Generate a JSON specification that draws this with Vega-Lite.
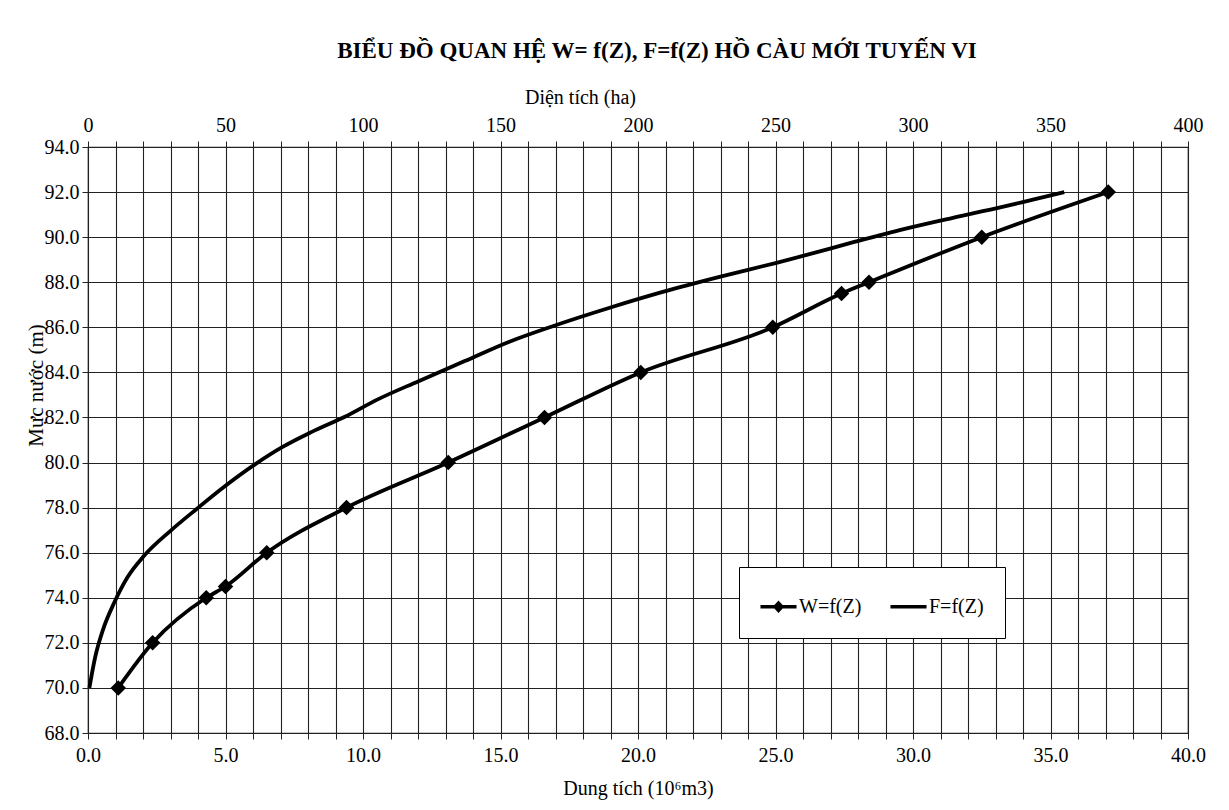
{
  "$schema": "https://vega.github.io/schema/vega-lite/v6.json",
  "width": 1100,
  "height": 586,
  "autosize": {"type": "none"},
  "padding": {"left": 88, "top": 147, "right": 41, "bottom": 77},
  "background": "white",
  "config": {
    "font": "Liberation Serif",
    "view": {"stroke": "#222", "strokeWidth": 1.2},
    "axis": {
      "labelFont": "Liberation Serif",
      "titleFont": "Liberation Serif",
      "labelColor": "black",
      "titleColor": "black",
      "labelFontSize": 20,
      "titleFontSize": 20,
      "titleFontWeight": "normal",
      "gridColor": "#222",
      "gridWidth": 1.1,
      "gridOpacity": 1,
      "tickColor": "#222",
      "domainColor": "#222",
      "labelOverlap": false,
      "labelFlush": false
    }
  },
  "title": {
    "text": "BIỂU ĐỒ QUAN HỆ  W= f(Z), F=f(Z) HỒ CÀU MỚI TUYẾN VI",
    "font": "Liberation Serif",
    "fontSize": 23,
    "fontWeight": "bold",
    "color": "black",
    "offset": 24,
    "dx": 19
  },
  "datasets": {
    "W": [
      {"series": "W=f(Z)", "W": 1.1, "Z": 70},
      {"series": "W=f(Z)", "W": 2.35, "Z": 72},
      {"series": "W=f(Z)", "W": 4.3, "Z": 74},
      {"series": "W=f(Z)", "W": 5.0, "Z": 74.5},
      {"series": "W=f(Z)", "W": 6.5, "Z": 76},
      {"series": "W=f(Z)", "W": 9.4, "Z": 78},
      {"series": "W=f(Z)", "W": 13.1, "Z": 80},
      {"series": "W=f(Z)", "W": 16.6, "Z": 82},
      {"series": "W=f(Z)", "W": 20.1, "Z": 84},
      {"series": "W=f(Z)", "W": 24.9, "Z": 86},
      {"series": "W=f(Z)", "W": 27.4, "Z": 87.5},
      {"series": "W=f(Z)", "W": 28.4, "Z": 88},
      {"series": "W=f(Z)", "W": 32.5, "Z": 90},
      {"series": "W=f(Z)", "W": 37.1, "Z": 92}
    ],
    "F": [
      {"series": "F=f(Z)", "F": 0.5, "Z": 70},
      {"series": "F=f(Z)", "F": 2.6, "Z": 71.36},
      {"series": "F=f(Z)", "F": 5.5, "Z": 72.6},
      {"series": "F=f(Z)", "F": 9.6, "Z": 73.8},
      {"series": "F=f(Z)", "F": 14.3, "Z": 74.9},
      {"series": "F=f(Z)", "F": 20.3, "Z": 75.85},
      {"series": "F=f(Z)", "F": 30, "Z": 76.97},
      {"series": "F=f(Z)", "F": 39.4, "Z": 77.93},
      {"series": "F=f(Z)", "F": 50, "Z": 78.97},
      {"series": "F=f(Z)", "F": 61, "Z": 79.94},
      {"series": "F=f(Z)", "F": 70.6, "Z": 80.68},
      {"series": "F=f(Z)", "F": 81.4, "Z": 81.36},
      {"series": "F=f(Z)", "F": 93.4, "Z": 82.03},
      {"series": "F=f(Z)", "F": 105, "Z": 82.78},
      {"series": "F=f(Z)", "F": 120, "Z": 83.6},
      {"series": "F=f(Z)", "F": 137, "Z": 84.5},
      {"series": "F=f(Z)", "F": 153, "Z": 85.35},
      {"series": "F=f(Z)", "F": 169, "Z": 86.05},
      {"series": "F=f(Z)", "F": 190, "Z": 86.88},
      {"series": "F=f(Z)", "F": 209, "Z": 87.57},
      {"series": "F=f(Z)", "F": 230, "Z": 88.25},
      {"series": "F=f(Z)", "F": 250, "Z": 88.85},
      {"series": "F=f(Z)", "F": 261, "Z": 89.2},
      {"series": "F=f(Z)", "F": 279, "Z": 89.8},
      {"series": "F=f(Z)", "F": 297, "Z": 90.37},
      {"series": "F=f(Z)", "F": 314.5, "Z": 90.86},
      {"series": "F=f(Z)", "F": 332.5, "Z": 91.34},
      {"series": "F=f(Z)", "F": 344, "Z": 91.68},
      {"series": "F=f(Z)", "F": 355, "Z": 92.0}
    ]
  },
  "layer": [
    {
      "data": {"name": "W"},
      "encoding": {
        "x": {
          "field": "W",
          "type": "quantitative",
          "scale": {"domain": [0, 40], "nice": false, "zero": false},
          "axis": {
            "orient": "bottom",
            "values": [0,1,2,3,4,5,6,7,8,9,10,11,12,13,14,15,16,17,18,19,20,21,22,23,24,25,26,27,28,29,30,31,32,33,34,35,36,37,38,39,40],
            "labelExpr": "datum.value % 5 === 0 ? format(datum.value, '.1f') : ''",
            "labelOverlap": false,
            "title": "Dung tích  (10⁶m3)",
            "grid": true,
            "tickSize": 6,
            "labelPadding": 6,
            "titlePadding": 13
          }
        },
        "y": {
          "field": "Z",
          "type": "quantitative",
          "scale": {"domain": [68, 94], "nice": false, "zero": false},
          "axis": {
            "values": [68,70,72,74,76,78,80,82,84,86,88,90,92,94],
            "format": ".1f",
            "title": "Mực nước (m)",
            "titleFontSize": 21,
            "titleX": -42,
            "titleY": 238,
            "grid": true,
            "tickSize": 6,
            "labelPadding": 3
          }
        }
      },
      "layer": [
        {
          "mark": {"type": "line", "interpolate": "monotone", "strokeWidth": 3.8},
          "encoding": {
            "color": {
              "field": "series",
              "type": "nominal",
              "scale": {"domain": ["W=f(Z)", "F=f(Z)"], "range": ["black", "black"]},
              "legend": {
                "title": null,
                "orient": "none",
                "legendX": 651,
                "legendY": 420,
                "direction": "horizontal",
                "fillColor": "white",
                "strokeColor": "black",
                "padding": 21,
                "symbolSize": 1300,
                "labelFont": "Liberation Serif",
                "labelFontSize": 20,
                "labelColor": "black",
                "labelOffset": 2,
                "columnPadding": 28,
                "encode": {
                  "symbols": {
                    "update": {
                      "shape": {"signal": "datum.value === 'W=f(Z)' ? 'M-1,-0.1H1V0.1H-1Z M-0.32,0L0,-0.35L0.32,0L0,0.35Z' : 'M-1,-0.1H1V0.1H-1Z'"},
                      "fill": {"value": "black"},
                      "stroke": {"value": "black"},
                      "strokeWidth": {"value": 0},
                      "opacity": {"value": 1}
                    }
                  }
                }
              }
            }
          }
        },
        {
          "mark": {"type": "point", "shape": "diamond", "filled": true, "size": 240, "color": "black", "opacity": 1}
        }
      ]
    },
    {
      "data": {"name": "F"},
      "mark": {"type": "line", "interpolate": "monotone", "strokeWidth": 3.8},
      "encoding": {
        "x": {
          "field": "F",
          "type": "quantitative",
          "scale": {"domain": [0, 400], "nice": false, "zero": false},
          "axis": {
            "orient": "top",
            "values": [0,10,20,30,40,50,60,70,80,90,100,110,120,130,140,150,160,170,180,190,200,210,220,230,240,250,260,270,280,290,300,310,320,330,340,350,360,370,380,390,400],
            "labelExpr": "datum.value % 50 === 0 ? format(datum.value, 'd') : ''",
            "labelOverlap": false,
            "title": "Diện tích (ha)",
            "titleX": 492,
            "grid": false,
            "tickSize": 6,
            "labelPadding": 6,
            "titlePadding": 8
          }
        },
        "y": {"field": "Z", "type": "quantitative"},
        "color": {"field": "series", "type": "nominal"}
      }
    }
  ],
  "resolve": {"scale": {"x": "independent"}}
}
